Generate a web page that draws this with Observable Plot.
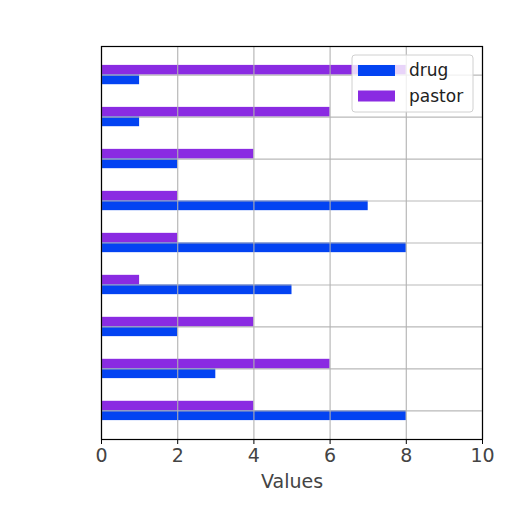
<!DOCTYPE html>
<html>
<head>
<meta charset="utf-8">
<script src="https://cdn.jsdelivr.net/npm/d3@7"></script>
<script src="https://cdn.jsdelivr.net/npm/@observablehq/plot@0.6"></script>
<style>
  html, body { margin: 0; padding: 0; background: #fff; }
  #chart { position: relative; width: 512px; height: 512px; }
</style>
</head>
<body>
<div id="chart"></div>
<script>
// Categories listed top to bottom (no tick labels shown in the reference)
const categories = ["c1", "c2", "c3", "c4", "c5", "c6", "c7", "c8", "c9"];
const drug   = [1, 1, 2, 7, 8, 5, 2, 3, 8];
const pastor = [8, 6, 4, 2, 2, 1, 4, 6, 4];
const seriesNames = ["drug", "pastor"];
const seriesColors = ["#0343f2", "#8a2be2"];
const xTicks = [0, 2, 4, 6, 8, 10];

const barH = 0.23;
const rows = [];
categories.forEach((c, i) => {
  rows.push({cat: c, series: "pastor", value: pastor[i], y1: i - barH, y2: i});
  rows.push({cat: c, series: "drug", value: drug[i], y1: i, y2: i + barH});
});

const plot = Plot.plot({
  width: 512,
  height: 512,
  marginLeft: 101,
  marginRight: 30,
  marginTop: 46,
  marginBottom: 73,
  style: {fontFamily: "DejaVu Sans", fontSize: "18px", color: "#333", background: "white"},
  x: {domain: [0, 10]},
  y: {domain: [-0.68, categories.length - 1 + 0.68], reverse: true, axis: null},
  color: {domain: seriesNames, range: seriesColors},
  marks: [
    Plot.rectX(rows, {x1: 0, x2: "value", y1: "y1", y2: "y2", fill: "series"}),
    Plot.gridX(xTicks, {stroke: "#b0b0b0", strokeOpacity: 0.9, strokeWidth: 1.2}),
    Plot.gridY(d3.range(categories.length), {stroke: "#b0b0b0", strokeOpacity: 0.9, strokeWidth: 1.2}),
    Plot.axisX(xTicks, {tickSize: 5, tickPadding: 4, fontSize: 19, stroke: "#000", fill: "#444",
      label: "Values", labelAnchor: "center", labelArrow: "none", labelOffset: 48}),
    Plot.frame({stroke: "#000", strokeWidth: 1.2})
  ]
});

document.getElementById("chart").appendChild(plot);

// Legend drawn inside the svg (top right, matplotlib style)
const svg = d3.select(plot);
const lg = svg.append("g").attr("font-family", "DejaVu Sans").attr("font-size", 17)
  .attr("text-anchor", "start");
lg.append("rect").attr("x", 352).attr("y", 55).attr("width", 121).attr("height", 57)
  .attr("rx", 3).attr("fill", "white").attr("fill-opacity", 0.8).attr("stroke", "#d0d0d0");
seriesNames.forEach((name, k) => {
  const yc = 70.5 + k * 25.5;
  lg.append("rect").attr("x", 358).attr("y", yc - 5.5).attr("width", 37).attr("height", 11)
    .attr("fill", seriesColors[k]);
  lg.append("text").attr("x", 409).attr("y", yc).attr("dy", "0.35em").attr("fill", "#222").text(name);
});
</script>
</body>
</html>
